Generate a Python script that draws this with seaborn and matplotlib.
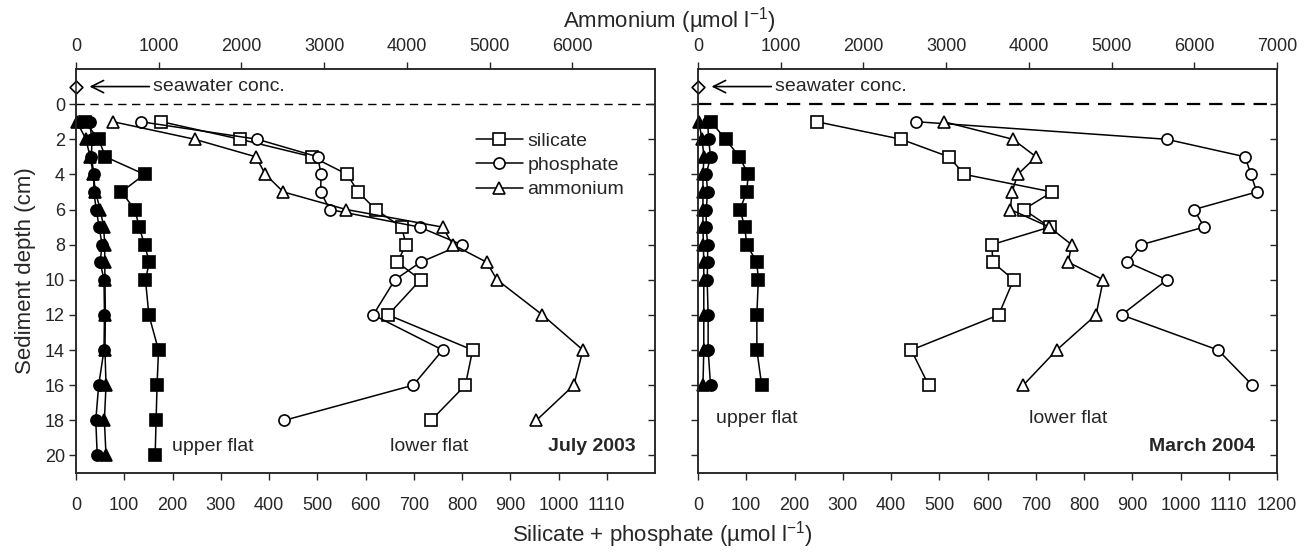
import matplotlib
matplotlib.use("Agg")
import matplotlib.pyplot as plt
from matplotlib.lines import Line2D
import seaborn as sns

# ---- depth profiles (cm) -------------------------------------------------
# July 2003, upper flat (filled symbols)
jul_up_depth = [1, 2, 3, 4, 5, 6, 7, 8, 9, 10, 12, 14, 16, 18, 20]
jul_up_sil = [18, 47, 61, 142, 94, 122, 131, 142, 152, 144, 151, 171, 168, 166, 164]
jul_up_pho = [28, 33, 32, 37, 37, 42, 48, 54, 50, 58, 59, 58, 47, 41, 44]
jul_up_amm = [10, 121, 170, 210, 234, 294, 334, 347, 347, 350, 355, 350, 363, 343, 363]

# July 2003, lower flat (open symbols)
jul_lo_depth = [1, 2, 3, 4, 5, 6, 7, 8, 9, 10, 12, 14, 16, 18]
jul_lo_sil = [177, 340, 490, 562, 585, 621, 675, 684, 666, 714, 647, 822, 807, 736]
jul_lo_pho = [134, 376, 501, 508, 507, 526, 712, 799, 714, 661, 616, 760, 699, 432]
jul_lo_amm = [447, 1434, 2175, 2290, 2507, 3267, 4431, 4556, 4965, 5090, 5639, 6129, 6019, 5566]

# March 2004, upper flat
mar_up_depth = [1, 2, 3, 4, 5, 6, 7, 8, 9, 10, 12, 14, 16]
mar_up_sil = [27, 57, 86, 104, 101, 87, 97, 101, 122, 125, 122, 122, 132]
mar_up_pho = [20, 22, 26, 17, 20, 17, 17, 20, 20, 19, 21, 21, 26]
mar_up_amm = [10, 48, 73, 60, 60, 60, 60, 65, 70, 70, 70, 70, 60]

# March 2004, lower flat
mar_lo_depth = [1, 2, 3, 4, 5, 6, 7, 8, 9, 10, 12, 14, 16]
mar_lo_sil = [246, 421, 520, 552, 734, 675, 729, 609, 611, 654, 623, 442, 478]
mar_lo_pho = [452, 971, 1134, 1146, 1158, 1028, 1049, 919, 890, 972, 878, 1078, 1149]
mar_lo_amm = [2970, 3806, 4088, 3865, 3797, 3777, 4249, 4516, 4477, 4900, 4812, 4336, 3933]

# seawater reference point
seawater_x = [0]
seawater_depth = [-1.0]

# axis ticks
sp_ticks_left = [0, 100, 200, 300, 400, 500, 600, 700, 800, 900, 1000, 1100]
sp_labels_left = ["0", "100", "200", "300", "400", "500", "600", "700", "800",
                  "900", "1000", "1110"]
sp_ticks_right = sp_ticks_left + [1200]
sp_labels_right = sp_labels_left + ["1200"]
amm_ticks_left = [0, 1000, 2000, 3000, 4000, 5000, 6000]
amm_ticks_right = amm_ticks_left + [7000]
depth_ticks = list(range(0, 21, 2))

legend_labels = ["silicate", "phosphate", "ammonium"]

# ---- style -----------------------------------------------------------------
sns.set_style("ticks")
plt.rcParams["font.family"] = ["Liberation Sans", "DejaVu Sans"]
plt.rcParams["mathtext.fontset"] = "custom"
plt.rcParams["mathtext.rm"] = "Liberation Sans"
plt.rcParams["mathtext.it"] = "Liberation Sans:italic"
plt.rcParams["mathtext.bf"] = "Liberation Sans:bold"
plt.rcParams["axes.linewidth"] = 1.1

TICK_FS = 13
LAB_FS = 16
TXT_FS = 14
MS = 8
LW = 1.1

W, H = 1307, 552
fig = plt.figure(figsize=(W / 100, H / 100), dpi=100)
fig.patch.set_facecolor("white")
pos_y, pos_h = 79 / H, 404 / H
axL = fig.add_axes([76 / W, pos_y, 579 / W, pos_h])
axR = fig.add_axes([698 / W, pos_y, 579 / W, pos_h])


def profile(ax, x, y, marker, filled):
    sns.lineplot(x=x, y=y, ax=ax, sort=False, estimator=None, color="black",
                 marker=marker, markersize=MS if marker != "^" else MS + 0.5,
                 markerfacecolor="black" if filled else "white",
                 markeredgecolor="black", markeredgewidth=1.2,
                 linewidth=LW, legend=False, clip_on=False)


def panel(ax, up, lo, sp_ticks, sp_labels, amm_ticks, dash_lw, dash_pat):
    ax.set_xlim(0, 1200)
    ax.set_ylim(21, -2)
    top = ax.twiny()
    top.set_xlim(0, 7000)
    top.set_ylim(21, -2)

    ax.axhline(0, color="black", lw=dash_lw, ls=(0, dash_pat), zorder=1)

    u_d, u_s, u_p, u_a = up
    l_d, l_s, l_p, l_a = lo
    profile(ax, l_s, l_d, "s", False)
    profile(ax, l_p, l_d, "o", False)
    profile(top, l_a, l_d, "^", False)
    profile(ax, u_s, u_d, "s", True)
    profile(top, u_a, u_d, "^", True)
    profile(ax, u_p, u_d, "o", True)

    sns.scatterplot(x=seawater_x, y=seawater_depth, ax=ax, marker="D", s=42,
                    facecolor="white", edgecolor="black", linewidth=1.2,
                    clip_on=False, zorder=5)
    ax.annotate("", xy=(28, -1.0), xytext=(152, -1.0),
                arrowprops=dict(arrowstyle="->", lw=1.2, color="black",
                                mutation_scale=22, shrinkA=0, shrinkB=0))
    ax.text(160, -1.0, "seawater conc.", fontsize=TXT_FS, va="center", ha="left")

    ax.set_xticks(sp_ticks)
    ax.set_xticklabels(sp_labels)
    ax.set_yticks(depth_ticks)
    top.set_xticks(amm_ticks)
    ax.tick_params(axis="x", direction="out", length=5, width=1, labelsize=TICK_FS,
                   pad=12, bottom=True, top=False)
    ax.tick_params(axis="y", direction="out", length=5, width=1, labelsize=TICK_FS,
                   left=True, right=False, pad=3)
    top.tick_params(axis="x", direction="out", length=5, width=1, labelsize=TICK_FS,
                    pad=5)
    # inward ticks on the right-hand spine
    top.yaxis.set_visible(True)
    top.set_yticks(depth_ticks)
    top.tick_params(axis="y", direction="in", length=5, width=1, left=False,
                    right=True, labelleft=False, labelright=False)
    for a in (ax, top):
        for s in a.spines.values():
            s.set_visible(True)
            s.set_linewidth(1.1)
    ax.set_xlabel("")
    ax.set_ylabel("")
    top.set_xlabel("")
    top.set_ylabel("")
    return top


topL = panel(axL, (jul_up_depth, jul_up_sil, jul_up_pho, jul_up_amm),
             (jul_lo_depth, jul_lo_sil, jul_lo_pho, jul_lo_amm),
             sp_ticks_left, sp_labels_left, amm_ticks_left, 1.0, (6, 4))
topR = panel(axR, (mar_up_depth, mar_up_sil, mar_up_pho, mar_up_amm),
             (mar_lo_depth, mar_lo_sil, mar_lo_pho, mar_lo_amm),
             sp_ticks_right, sp_labels_right, amm_ticks_right, 1.6, (6, 4))
axR.tick_params(axis="y", labelleft=False)

axL.set_ylabel("Sediment depth (cm)", fontsize=LAB_FS, labelpad=6)

# panel annotations
axL.text(200, 19.5, "upper flat", fontsize=TXT_FS, va="center", ha="left")
axL.text(651, 19.5, "lower flat", fontsize=TXT_FS, va="center", ha="left")
axL.text(1160, 19.5, "July 2003", fontsize=TXT_FS, fontweight="bold",
         va="center", ha="right")
axR.text(37, 17.9, "upper flat", fontsize=TXT_FS, va="center", ha="left")
axR.text(687, 17.9, "lower flat", fontsize=TXT_FS, va="center", ha="left")
axR.text(1155, 19.5, "March 2004", fontsize=TXT_FS, fontweight="bold",
         va="center", ha="right")

# legend for the open symbols
handles = [Line2D([], [], color="black", lw=LW, marker=m, markersize=MS,
                  markerfacecolor="white", markeredgecolor="black",
                  markeredgewidth=1.2) for m in ("s", "o", "^")]
axL.legend(handles, legend_labels, loc="center left",
           bbox_to_anchor=(0.691, 0.762), frameon=False, fontsize=TXT_FS,
           handlelength=2.4, handletextpad=0.25, labelspacing=0.35,
           borderpad=0, borderaxespad=0)

fig.text(669 / W, 1 - 21 / H, r"Ammonium (µmol l$^{-1}$)", fontsize=LAB_FS,
         ha="center", va="center")
fig.text(662 / W, 1 - 535 / H, r"Silicate + phosphate (µmol l$^{-1}$)",
         fontsize=LAB_FS, ha="center", va="center")

fig.savefig("out.png", dpi=100, facecolor="white")
